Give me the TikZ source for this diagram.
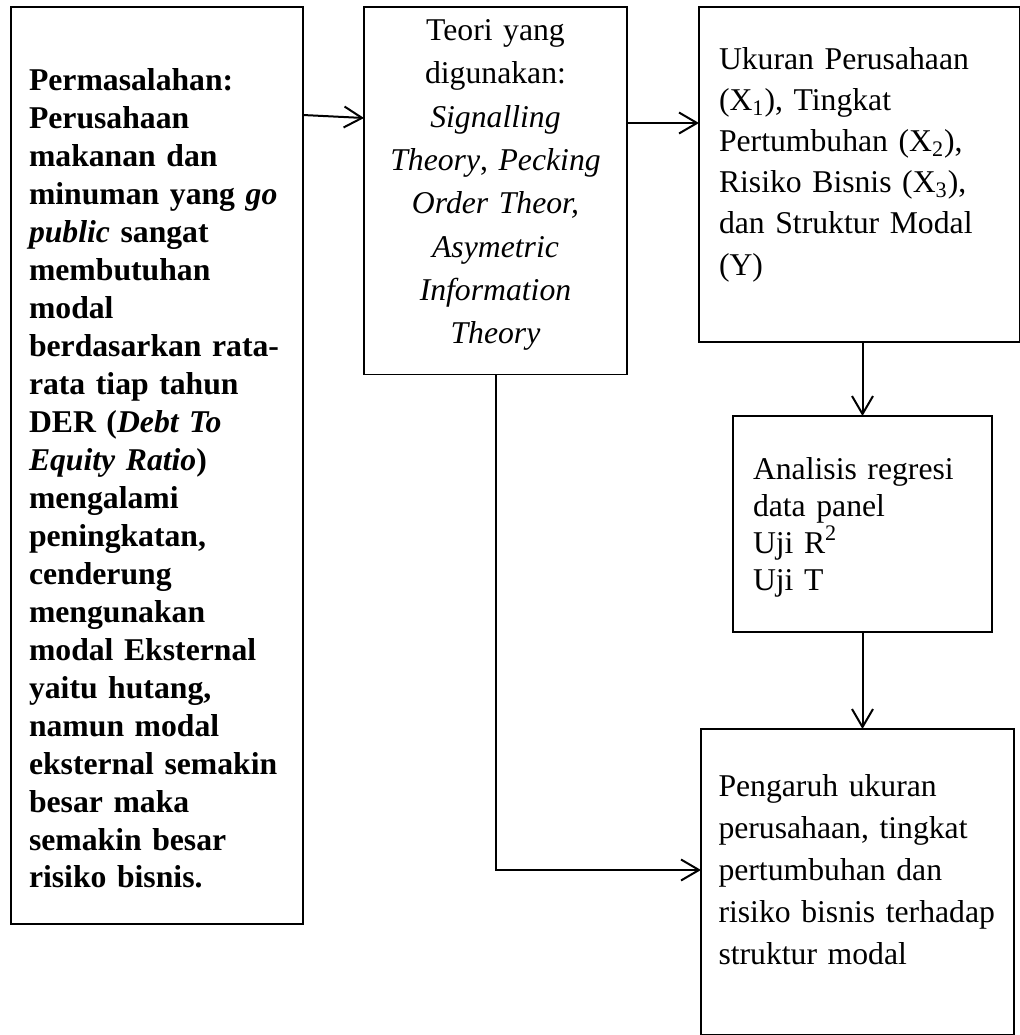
\documentclass[tikz,border=0pt]{standalone}
\usepackage{fontspec}
\setmainfont{Liberation Serif}
\usetikzlibrary{arrows.meta,positioning}

\begin{document}
\begin{tikzpicture}[x=0.5pt, y=-0.5pt, >={Straight Barb[length=9pt,width=10.5pt]},
        kotak/.style={draw, line width=0.6pt, inner ysep=0pt, outer sep=0pt, align=left, execute at begin node={\hyphenpenalty=10000}},
        panah/.style={->, line width=1pt}]
        \useasboundingbox (0,0) rectangle (1020,1035);
        \draw node[kotak, anchor=north west, text width=128pt, inner xsep=9pt, text height=41.5pt, text depth=417pt, font=\fontsize{15.85}{19}\selectfont\bfseries] (perm) at (11,7) {Permasalahan:\\ Perusahaan\\ makanan dan\\ minuman yang \textit{go}\\ \textit{public} sangat\\ membutuhan\\ modal\\ berdasarkan rata-\\ rata tiap tahun\\ DER (\textit{Debt To}\\ \textit{Equity Ratio})\\ mengalami\\ peningkatan,\\ cenderung\\ mengunakan\\ modal Eksternal\\ yaitu hutang,\\ namun modal\\ eksternal semakin\\ besar maka\\ semakin besar\\ risiko bisnis.};
        \draw node[kotak, align=center, text width=120pt, inner xsep=5.75pt, text height=16.75pt, text depth=167pt, font=\fontsize{15.85}{21.65}\selectfont, below right = 0pt and 30.5pt of perm.north east] (teori) {Teori yang\\ digunakan:\\ \textit{Signalling}\\ \textit{Theory}, \textit{Pecking}\\ \textit{Order Theor,}\\ \textit{Asymetric}\\ \textit{Information}\\ \textit{Theory}};
        \draw node[kotak, text width=140.5pt, inner xsep=10pt, text height=31.25pt, text depth=136.25pt, font=\fontsize{15.85}{20.55}\selectfont, below right = 0pt and 36pt of teori.north east] (ukuran) {Ukuran Perusahaan\\ (X\textsubscript{1}), Tingkat\\ Pertumbuhan (X\textsubscript{2}),\\ Risiko Bisnis (X\textsubscript{3}),\\ dan Struktur Modal\\ (Y)};
        \draw node[kotak, text width=109.5pt, inner xsep=10pt, text height=31.5pt, text depth=76.5pt, font=\fontsize{15.85}{18.6}\selectfont, below = 37pt of ukuran, xshift=1.5pt] (analisis) {Analisis regresi\\ data panel\\ Uji R\textsuperscript{2}\\ Uji T};
        \draw node[kotak, text width=139pt, inner xsep=8.75pt, text height=33.5pt, text depth=119.5pt, font=\fontsize{15.85}{21.1}\selectfont, below = 48.5pt of analisis, xshift=-2.5pt] (pengaruh) {Pengaruh ukuran\\ perusahaan, tingkat\\ pertumbuhan dan\\ risiko bisnis terhadap\\ struktur modal};
        \draw ([yshift=-54pt]perm.north east) edge[panah] ([yshift=-55.5pt]teori.north west);
        \draw ([yshift=-58pt]teori.north east) edge[panah] ([yshift=-58pt]ukuran.north west);
        \draw (analisis.north |- ukuran.south) edge[panah] (analisis.north);
        \draw (analisis.south) edge[panah] (analisis.south |- pengaruh.north);
        \draw[panah] (teori.south) |- ([yshift=-70.5pt]pengaruh.north west);
      \end{tikzpicture}
\end{document}
